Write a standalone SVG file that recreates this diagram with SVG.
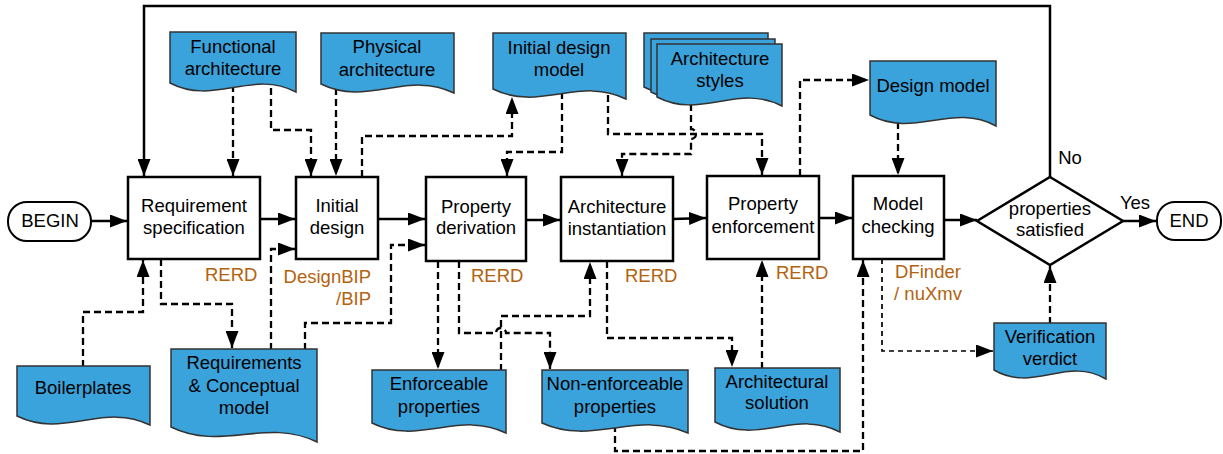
<svg xmlns="http://www.w3.org/2000/svg" width="1223" height="454" viewBox="0 0 1223 454">
<style>
.proc{fill:#fff;stroke:#000;stroke-width:2.5}
.doc{fill:#3aa3dc;stroke:#333;stroke-width:1.5}
.t{font-family:"Liberation Sans",Arial,sans-serif;font-size:18.5px;fill:#000;text-anchor:middle}
.lbl{fill:#b3620f;text-anchor:start}
.s{stroke:#000;stroke-width:2.5;fill:none}
.d{stroke:#000;stroke-width:2.3;fill:none;stroke-dasharray:7 4}
</style>
<defs>
<marker id="ah" markerUnits="userSpaceOnUse" markerWidth="18" markerHeight="13" refX="17" refY="6.5" orient="auto">
<path d="M0,0 L17,6.5 L0,13 Z" fill="#000"/>
</marker>
</defs>
<g id="connectors">
<path class="s" d="M91,221 H127" marker-end="url(#ah)"/>
<path class="s" d="M260,219 H295" marker-end="url(#ah)"/>
<path class="s" d="M378,219 H425" marker-end="url(#ah)"/>
<path class="s" d="M526,220 H560" marker-end="url(#ah)"/>
<path class="s" d="M673,219 L706,218" marker-end="url(#ah)"/>
<path class="s" d="M819,218 H852" marker-end="url(#ah)"/>
<path class="s" d="M944,220 H977" marker-end="url(#ah)"/>
<path class="s" d="M1123,221 H1156" marker-end="url(#ah)"/>
<path class="s" d="M1050,177 V6 H144 V176" marker-end="url(#ah)"/>
<path class="d" d="M233,85 V176" marker-end="url(#ah)"/>
<path class="d" d="M271,88 V130 H311 V176" marker-end="url(#ah)"/>
<path class="d" d="M336,88 V176" marker-end="url(#ah)"/>
<path class="d" d="M362,177 V136 H512 V97" marker-end="url(#ah)"/>
<path class="d" d="M562,92 V152 H507 V176" marker-end="url(#ah)"/>
<path class="d" d="M608,95 V134 H762 V175" marker-end="url(#ah)"/>
<path class="d" d="M691,104 V129 A5,5 0 0 1 691,139 V154 H622 V176" marker-end="url(#ah)"/>
<path class="d" d="M800,176 V80 H869" marker-end="url(#ah)"/>
<path class="d" d="M898,122 V175" marker-end="url(#ah)"/>
<path class="d" d="M83,367 V312 H143 V260" marker-end="url(#ah)"/>
<path class="d" d="M161,259 V304 H232 V348" marker-end="url(#ah)"/>
<path class="d" d="M271,350 V249 H295" marker-end="url(#ah)"/>
<path class="d" d="M305,350 V323 H391 V245 H425" marker-end="url(#ah)"/>
<path class="d" d="M438,261 V369" marker-end="url(#ah)"/>
<path class="d" d="M459,261 V333 H496 A5,5 0 0 1 506,333 H550 V369" marker-end="url(#ah)"/>
<path class="d" d="M501,371 V316 H590 V262" marker-end="url(#ah)"/>
<path class="d" d="M607,261 V338 H732 V367" marker-end="url(#ah)"/>
<path class="d" d="M762,369 V260" marker-end="url(#ah)"/>
<path class="d" d="M615,425 V451 H863 V260" marker-end="url(#ah)"/>
<path class="d" d="M882,259 V351 H993" marker-end="url(#ah)" style="stroke-width:1.7;stroke-dasharray:5 4"/>
<path class="d" d="M1050,324 V266" marker-end="url(#ah)"/>
</g>
<g id="begin"><rect class="proc" x="8" y="202" width="83" height="39" rx="19" style="stroke-width:2"/><text class="t" x="50" y="227">BEGIN</text></g>
<g id="end"><rect class="proc" x="1157" y="202" width="64" height="38" rx="18" style="stroke-width:2"/><text class="t" x="1189" y="227">END</text></g>
<g id="req-spec"><rect class="proc" x="128" y="177" width="132" height="82"/><text class="t" x="194" y="212">Requirement</text><text class="t" x="194" y="234">specification</text></g>
<g id="initial-design"><rect class="proc" x="296" y="177" width="82" height="82"/><text class="t" x="337" y="212">Initial</text><text class="t" x="337" y="234">design</text></g>
<g id="prop-deriv"><rect class="proc" x="426" y="177" width="100" height="84"/><text class="t" x="476" y="213">Property</text><text class="t" x="476" y="234">derivation</text></g>
<g id="arch-inst"><rect class="proc" x="561" y="177" width="112" height="84"/><text class="t" x="617" y="213">Architecture</text><text class="t" x="617" y="235">instantiation</text></g>
<g id="prop-enf"><rect class="proc" x="707" y="176" width="112" height="83"/><text class="t" x="763" y="210">Property</text><text class="t" x="763" y="233">enforcement</text></g>
<g id="model-check"><rect class="proc" x="853" y="176" width="91" height="83"/><text class="t" x="898" y="210">Model</text><text class="t" x="898" y="233">checking</text></g>
<g id="decision"><path class="proc" d="M1050,177 L1123,221 L1050,265 L977,221 Z"/><text class="t" x="1050" y="215">properties</text><text class="t" x="1050" y="236">satisfied</text></g>
<g id="functional-arch"><path class="doc" d="M170,32 H296 V92 C251.9,69 214.1,106 170,83 Z"/><text class="t" x="233" y="53">Functional</text><text class="t" x="233" y="75">architecture</text></g>
<g id="physical-arch"><path class="doc" d="M321,33 H454 V93 C407.5,70 367.6,107 321,84 Z"/><text class="t" x="387" y="53">Physical</text><text class="t" x="387" y="76">architecture</text></g>
<g id="initial-design-model"><path class="doc" d="M493,33 H626 V99 C579.5,75.7 539.6,112.3 493,89 Z"/><text class="t" x="559" y="54">Initial design</text><text class="t" x="559" y="76">model</text></g>
<g id="arch-styles">
<path class="doc" d="M644,33 H768 V96 C724.6,73 687.4,110 644,87 Z"/>
<path class="doc" d="M651,39 H775 V101 C731.6,78 694.4,115 651,92 Z"/>
<path class="doc" d="M657,44 H782 V106 C738.25,83 700.75,120 657,97 Z"/>
<text class="t" x="720" y="65">Architecture</text><text class="t" x="720" y="87">styles</text></g>
<g id="design-model"><path class="doc" d="M870,61 H996 V126 C951.9,102.3 914.1,138.7 870,115 Z"/><text class="t" x="933" y="92">Design model</text></g>
<g id="boilerplates"><path class="doc" d="M17,366 H150 V425 C103.5,402 63.6,439 17,416 Z"/><text class="t" x="83" y="394">Boilerplates</text></g>
<g id="req-conceptual"><path class="doc" d="M171,349 H317 V442 C265.9,417 222.1,452 171,427 Z"/><text class="t" x="244" y="369">Requirements</text><text class="t" x="244" y="392">&amp; Conceptual</text><text class="t" x="244" y="414">model</text></g>
<g id="enforceable"><path class="doc" d="M372,370 H506 V433 C459.1,409.7 418.9,446.3 372,423 Z"/><text class="t" x="439" y="390">Enforceable</text><text class="t" x="439" y="413">properties</text></g>
<g id="non-enforceable"><path class="doc" d="M542,370 H688 V433 C636.9,409.7 593.1,446.3 542,423 Z"/><text class="t" x="615" y="390">Non-enforceable</text><text class="t" x="615" y="413">properties</text></g>
<g id="arch-solution"><path class="doc" d="M715,368 H840 V432 C796.25,408.7 758.75,445.3 715,422 Z"/><text class="t" x="777" y="388">Architectural</text><text class="t" x="777" y="409">solution</text></g>
<g id="verification"><path class="doc" d="M994,323 H1106 V379 C1066.8,356 1033.2,393 994,370 Z"/><text class="t" x="1050" y="343">Verification</text><text class="t" x="1050" y="365">verdict</text></g>
<g id="labels">
<text class="t" x="1070" y="164">No</text>
<text class="t" x="1135" y="209">Yes</text>
<text class="t lbl" x="205" y="281">RERD</text>
<text class="t lbl" x="371" y="283" style="text-anchor:end">DesignBIP</text>
<text class="t lbl" x="371" y="305" style="text-anchor:end">/BIP</text>
<text class="t lbl" x="471" y="282">RERD</text>
<text class="t lbl" x="625" y="282">RERD</text>
<text class="t lbl" x="776" y="279">RERD</text>
<text class="t lbl" x="928" y="278" style="text-anchor:middle">DFinder</text>
<text class="t lbl" x="928" y="300" style="text-anchor:middle">/ nuXmv</text>
</g>
</svg>
